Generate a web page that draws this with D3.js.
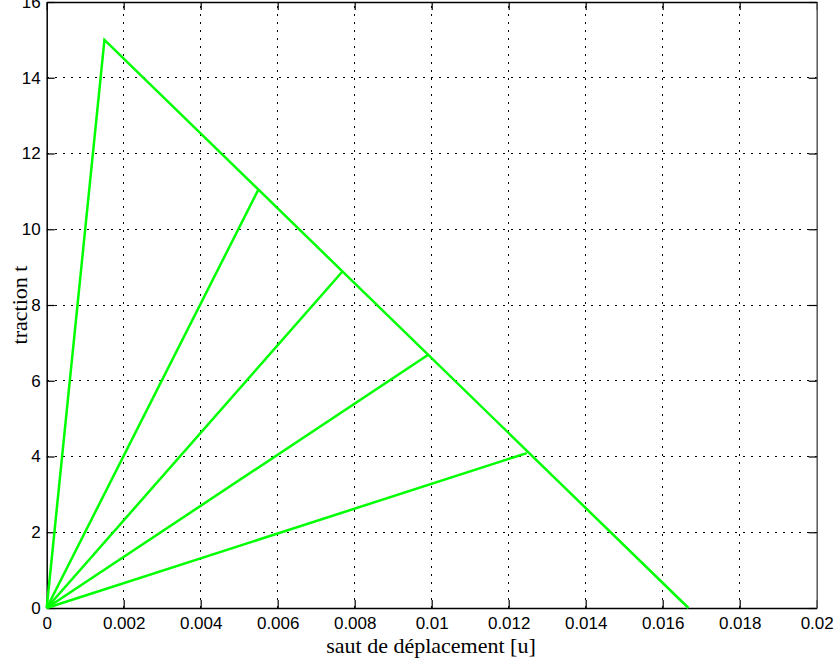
<!DOCTYPE html>
<html><head><meta charset="utf-8">
<script src="https://cdn.jsdelivr.net/npm/d3@7"></script>
<style>body{margin:0;background:#fff}svg{display:block}</style>
</head><body>
<svg id="c" width="835" height="663"></svg>
<script>
// Data
const xTicks = [0,0.002,0.004,0.006,0.008,0.01,0.012,0.014,0.016,0.018,0.02];
const xTickLabels = ["0","0.002","0.004","0.006","0.008","0.01","0.012","0.014","0.016","0.018","0.02"];
const yTicks = [0,2,4,6,8,10,12,14,16];
const envelopeU = [0, 0.0015, 0.01667];
const envelopeT = [0, 15, 0];
const unloadU = [0.00549, 0.00767, 0.0099, 0.01247];
const unloadT = [11.03, 8.87, 6.68, 4.09];
const xLabel = "saut de déplacement [u]";
const yLabel = "traction t";

const svg = d3.select("#c");
const L = 46.7, R = 816.7, T = 2, B = 608;
const x = d3.scaleLinear().domain([0,0.02]).range([L,R]);
const y = d3.scaleLinear().domain([0,16]).range([B,T]);

// grid
const g = svg.append("g");
g.selectAll(".vg").data(xTicks.slice(1,-1)).enter().append("line")
  .attr("x1",d=>x(d)).attr("x2",d=>x(d)).attr("y1",B).attr("y2",T)
  .attr("stroke","#000").attr("stroke-width",1).attr("stroke-dasharray","2,6").attr("shape-rendering","crispEdges");
g.selectAll(".hg").data(yTicks.slice(1,-1)).enter().append("line")
  .attr("y1",d=>y(d)).attr("y2",d=>y(d)).attr("x1",L).attr("x2",R)
  .attr("stroke","#000").attr("stroke-width",1).attr("stroke-dasharray","2,6").attr("shape-rendering","crispEdges");

// axes
const fmt = (d,i)=>xTickLabels[i];
const xAx = svg.append("g").attr("transform",`translate(0,${B})`)
  .call(d3.axisBottom(x).tickValues(xTicks).tickFormat(fmt).tickSizeInner(-8).tickSizeOuter(0).tickPadding(9));
const xAxTop = svg.append("g").attr("transform",`translate(0,${T})`)
  .call(d3.axisTop(x).tickValues(xTicks).tickFormat("").tickSizeInner(-8).tickSizeOuter(0));
const yAx = svg.append("g").attr("transform",`translate(${L},0)`)
  .call(d3.axisLeft(y).tickValues(yTicks).tickFormat(d3.format("d")).tickSizeInner(-8).tickSizeOuter(0).tickPadding(6));
const yAxR = svg.append("g").attr("transform",`translate(${R},0)`)
  .call(d3.axisRight(y).tickValues(yTicks).tickFormat("").tickSizeInner(-8).tickSizeOuter(0));
[xAx,xAxTop,yAx,yAxR].forEach(a=>{
  a.select(".domain").attr("stroke","#000").attr("stroke-width",1.5);
  a.selectAll(".tick line").attr("stroke","#000").attr("stroke-width",1.2);
  a.selectAll("text").attr("font-family","'Liberation Sans', Arial, sans-serif").attr("font-size",17).attr("fill","#000");
});
yAxR.select(".domain").attr("stroke","#555");

// lines
const line = d3.line().x(d=>x(d[0])).y(d=>y(d[1]));
const lg = svg.append("g");
lg.append("path").datum(envelopeU.map((u,i)=>[u,envelopeT[i]]))
  .attr("d",line).attr("fill","none").attr("stroke","#00ff00").attr("stroke-width",2.5).attr("stroke-linejoin","miter");
unloadU.forEach((u,i)=>{
  lg.append("path").datum([[0,0],[u,unloadT[i]]])
    .attr("d",line).attr("fill","none").attr("stroke","#00ff00").attr("stroke-width",2.5);
});

// labels
svg.append("text").attr("x",431).attr("y",653).attr("text-anchor","middle")
  .attr("font-family","'Liberation Serif','Times New Roman',serif").attr("font-size",22).text(xLabel);
svg.append("text").attr("transform",`translate(27,${(T+B)/2}) rotate(-90)`).attr("text-anchor","middle")
  .attr("font-family","'Liberation Serif','Times New Roman',serif").attr("font-size",22).text(yLabel);
</script>
</body></html>
